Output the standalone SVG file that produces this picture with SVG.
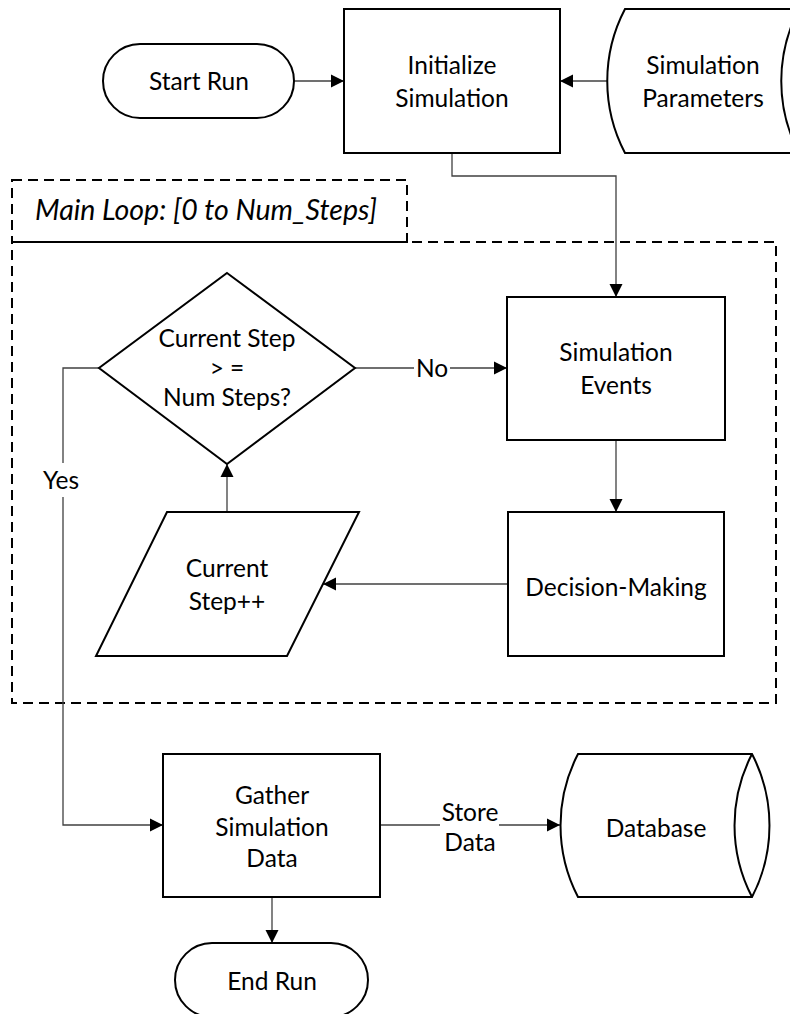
<svg xmlns="http://www.w3.org/2000/svg" width="790" height="1014" viewBox="0 0 790 1014">
  <defs>
    <marker id="arrow" markerUnits="userSpaceOnUse" markerWidth="14" markerHeight="14" refX="13" refY="7" orient="auto">
      <path d="M0,0.5 L13,7 L0,13.5 Z" fill="#000"/>
    </marker>
    <style>
      .shape { fill: #fff; stroke: #000; stroke-width: 2; }
      .conn { fill: none; stroke: #404040; stroke-width: 1.3; }
      .dash { fill: none; stroke: #000; stroke-width: 2; stroke-dasharray: 10 6; }
      text { font-family: Lato, "Open Sans", sans-serif; font-size: 24.5px; fill: #000; text-anchor: middle; }
      .italic { font-style: italic; text-anchor: start; font-size: 28.5px; }
    </style>
  </defs>
  <rect width="790" height="1014" fill="#fff"/>

  <!-- loop frame and its caption box -->
  <g id="loop-frame">
    <rect class="dash" x="12" y="242" width="764" height="461"/>
    <rect class="dash" x="12" y="180" width="395" height="62"/>
    <text class="italic" x="35" y="220">Main Loop: [0 to Num_Steps]</text>
  </g>

  <!-- connectors -->
  <g id="connectors">
    <path class="conn" d="M294,81 H344" marker-end="url(#arrow)"/>
    <path class="conn" d="M607,81 H560" marker-end="url(#arrow)"/>
    <path class="conn" d="M452,153 V176 H616 V297" marker-end="url(#arrow)"/>
    <path class="conn" d="M355,368 H414 M450,368 H507" marker-end="url(#arrow)"/>
    <path class="conn" d="M616,440 V512" marker-end="url(#arrow)"/>
    <path class="conn" d="M508,584 H323" marker-end="url(#arrow)"/>
    <path class="conn" d="M227,512 V464" marker-end="url(#arrow)"/>
    <path class="conn" d="M99,368 H63 V463 M63,497 V825 H163" marker-end="url(#arrow)"/>
    <path class="conn" d="M380,825 H440 M499,825 H560" marker-end="url(#arrow)"/>
    <path class="conn" d="M272,897 V943" marker-end="url(#arrow)"/>
    <text x="432" y="377">No</text>
    <text x="61" y="489">Yes</text>
    <text x="470" y="821">Store</text>
    <text x="470" y="851">Data</text>
  </g>

  <g id="start-run">
    <rect class="shape" x="103" y="44" width="191" height="74" rx="37"/>
    <text x="199" y="90">Start Run</text>
  </g>

  <g id="initialize-simulation">
    <rect class="shape" x="344" y="9" width="216" height="144"/>
    <text x="452" y="74">Initialize</text>
    <text x="452" y="107">Simulation</text>
  </g>

  <g id="simulation-parameters">
    <path class="shape" d="M625,9 L799,9 A155,155 0 0 1 799,153 L625,153 A155,155 0 0 1 625,9 Z"/>
    <path class="shape" d="M799,9 A155,155 0 0 0 799,153"/>
    <text x="703" y="74">Simulation</text>
    <text x="703" y="107">Parameters</text>
  </g>

  <g id="step-check">
    <polygon class="shape" points="227,273 355,368 227,464 99,368"/>
    <text x="227" y="347">Current Step</text>
    <text x="227" y="377">&gt; =</text>
    <text x="227" y="406">Num Steps?</text>
  </g>

  <g id="simulation-events">
    <rect class="shape" x="507" y="297" width="218" height="143"/>
    <text x="616" y="361">Simulation</text>
    <text x="616" y="394">Events</text>
  </g>

  <g id="decision-making">
    <rect class="shape" x="508" y="512" width="216" height="144"/>
    <text x="616" y="596">Decision-Making</text>
  </g>

  <g id="step-increment">
    <polygon class="shape" points="167,512 359,512 287,656 96,656"/>
    <text x="227" y="577">Current</text>
    <text x="227" y="610">Step++</text>
  </g>

  <g id="gather-data">
    <rect class="shape" x="163" y="754" width="217" height="143"/>
    <text x="272" y="804">Gather</text>
    <text x="272" y="836">Simulation</text>
    <text x="272" y="867">Data</text>
  </g>

  <g id="database">
    <path class="shape" d="M578,754 L752,754 A155,155 0 0 1 752,897 L578,897 A155,155 0 0 1 578,754 Z"/>
    <path class="shape" d="M752,754 A155,155 0 0 0 752,897"/>
    <text x="656" y="837">Database</text>
  </g>

  <g id="end-run">
    <rect class="shape" x="175" y="943" width="193" height="74" rx="37"/>
    <text x="272" y="990">End Run</text>
  </g>
</svg>
